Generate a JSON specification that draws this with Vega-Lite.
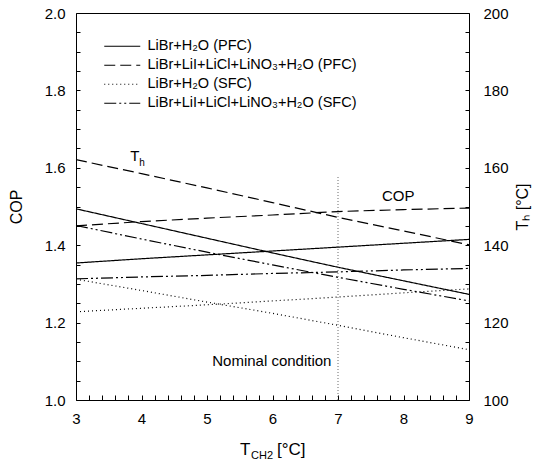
{
  "$schema": "https://vega.github.io/schema/vega-lite/v6.json",
  "width": 393,
  "height": 387,
  "autosize": {"type": "none"},
  "padding": {"left": 76, "top": 13, "right": 80, "bottom": 63},
  "background": "white",
  "config": {
    "view": {"stroke": "black", "strokeWidth": 1},
    "font": "Liberation Sans",
    "axis": {"domain": false, "labelColor": "black", "titleColor": "black", "grid": false, "labelFont": "Liberation Sans", "titleFont": "Liberation Sans", "labelFontSize": 15, "titleFontSize": 16, "titleFontWeight": "normal"},
    "legend": {"labelFont": "Liberation Sans", "labelFontSize": 14.5, "labelColor": "black", "labelLimit": 400}
  },
  "datasets": {
    "curves": [
      {"T": 3, "s": "LiBr+H₂O (PFC)", "COP": 1.354, "Th": 149.4},
      {"T": 4, "s": "LiBr+H₂O (PFC)", "COP": 1.365, "Th": 145.6},
      {"T": 5, "s": "LiBr+H₂O (PFC)", "COP": 1.375, "Th": 141.8},
      {"T": 6, "s": "LiBr+H₂O (PFC)", "COP": 1.385, "Th": 138.0},
      {"T": 7, "s": "LiBr+H₂O (PFC)", "COP": 1.395, "Th": 134.3},
      {"T": 8, "s": "LiBr+H₂O (PFC)", "COP": 1.405, "Th": 130.8},
      {"T": 9, "s": "LiBr+H₂O (PFC)", "COP": 1.415, "Th": 127.3},
      {"T": 3, "s": "LiBr+LiI+LiCl+LiNO₃+H₂O (PFC)", "COP": 1.450, "Th": 162.1},
      {"T": 4, "s": "LiBr+LiI+LiCl+LiNO₃+H₂O (PFC)", "COP": 1.461, "Th": 158.5},
      {"T": 5, "s": "LiBr+LiI+LiCl+LiNO₃+H₂O (PFC)", "COP": 1.470, "Th": 154.8},
      {"T": 6, "s": "LiBr+LiI+LiCl+LiNO₃+H₂O (PFC)", "COP": 1.478, "Th": 151.0},
      {"T": 7, "s": "LiBr+LiI+LiCl+LiNO₃+H₂O (PFC)", "COP": 1.487, "Th": 147.2},
      {"T": 8, "s": "LiBr+LiI+LiCl+LiNO₃+H₂O (PFC)", "COP": 1.492, "Th": 143.7},
      {"T": 9, "s": "LiBr+LiI+LiCl+LiNO₃+H₂O (PFC)", "COP": 1.496, "Th": 140.1},
      {"T": 3, "s": "LiBr+H₂O (SFC)", "COP": 1.228, "Th": 131.2},
      {"T": 4, "s": "LiBr+H₂O (SFC)", "COP": 1.237, "Th": 128.3},
      {"T": 5, "s": "LiBr+H₂O (SFC)", "COP": 1.246, "Th": 125.3},
      {"T": 6, "s": "LiBr+H₂O (SFC)", "COP": 1.256, "Th": 122.4},
      {"T": 7, "s": "LiBr+H₂O (SFC)", "COP": 1.266, "Th": 119.3},
      {"T": 8, "s": "LiBr+H₂O (SFC)", "COP": 1.277, "Th": 116.1},
      {"T": 9, "s": "LiBr+H₂O (SFC)", "COP": 1.287, "Th": 113.0},
      {"T": 3, "s": "LiBr+LiI+LiCl+LiNO₃+H₂O (SFC)", "COP": 1.313, "Th": 145.1},
      {"T": 4, "s": "LiBr+LiI+LiCl+LiNO₃+H₂O (SFC)", "COP": 1.318, "Th": 141.6},
      {"T": 5, "s": "LiBr+LiI+LiCl+LiNO₃+H₂O (SFC)", "COP": 1.322, "Th": 138.2},
      {"T": 6, "s": "LiBr+LiI+LiCl+LiNO₃+H₂O (SFC)", "COP": 1.327, "Th": 134.9},
      {"T": 7, "s": "LiBr+LiI+LiCl+LiNO₃+H₂O (SFC)", "COP": 1.331, "Th": 131.7},
      {"T": 8, "s": "LiBr+LiI+LiCl+LiNO₃+H₂O (SFC)", "COP": 1.336, "Th": 128.6},
      {"T": 9, "s": "LiBr+LiI+LiCl+LiNO₃+H₂O (SFC)", "COP": 1.340, "Th": 125.6}
    ]
  },
  "encoding": {
    "x": {"field": "T", "type": "quantitative",
      "scale": {"domain": [3, 9], "nice": false},
      "axis": {"orient": "bottom", "title": null, "offset": -5,
        "values": [3,3.2,3.4,3.6,3.8,4,4.2,4.4,4.6,4.8,5,5.2,5.4,5.6,5.8,6,6.2,6.4,6.6,6.8,7,7.2,7.4,7.6,7.8,8,8.2,8.4,8.6,8.8,9],
        "labelExpr": "abs(datum.value - round(datum.value)) < 0.001 ? format(datum.value, 'd') : ''",
        "ticks": true, "tickSize": 5, "tickColor": "black", "tickWidth": 1,
        "labelPadding": 11, "labelFlush": false, "labelOverlap": false, "labelBound": false}}
  },
  "layer": [
    {
      "data": {"name": "curves"},
      "mark": {"type": "line", "color": "black", "strokeWidth": 1.2},
      "encoding": {
        "y": {"field": "COP", "type": "quantitative",
          "scale": {"domain": [1, 2], "nice": false, "zero": false},
          "axis": {"orient": "left", "title": "COP", "titleFontSize": 16, "offset": -4,
            "tickCount": 20, "format": ".1f",
            "labelExpr": "abs(datum.value*5 - round(datum.value*5)) < 0.001 ? format(datum.value, '.1f') : ''",
            "ticks": true, "tickSize": 4, "tickColor": "black", "tickWidth": 1,
            "labelPadding": 11, "labelOverlap": false, "labelBound": false, "titlePadding": 20}},
        "strokeDash": {"field": "s", "type": "nominal",
          "scale": {"domain": ["LiBr+H₂O (PFC)", "LiBr+LiI+LiCl+LiNO₃+H₂O (PFC)", "LiBr+H₂O (SFC)", "LiBr+LiI+LiCl+LiNO₃+H₂O (SFC)"],
            "range": [[1, 0], [11, 5], [1, 3], [12, 3, 2, 3, 2, 3]]},
          "legend": {"title": null, "orient": "none", "legendX": 39, "legendY": 26, "symbolType": "M-3,0H3", "symbolSize": 144, "symbolStrokeColor": "black", "symbolFillColor": "transparent", "symbolStrokeWidth": 1.2, "labelOffset": 18, "rowPadding": 4}}
      }
    },
    {
      "data": {"name": "curves"},
      "mark": {"type": "line", "color": "black", "strokeWidth": 1.2},
      "encoding": {
        "y": {"field": "Th", "type": "quantitative",
          "scale": {"domain": [100, 200], "nice": false, "zero": false},
          "axis": {"orient": "right", "title": "Tₕ [°C]", "titleAngle": 270, "titleFontSize": 16, "offset": -4,
            "tickCount": 20,
            "labelExpr": "datum.value % 20 === 0 ? format(datum.value, 'd') : ''",
            "ticks": true, "tickSize": 4, "tickColor": "black", "tickWidth": 1,
            "labelPadding": 14, "labelOverlap": false, "labelBound": false, "titlePadding": 22}},
        "strokeDash": {"field": "s", "type": "nominal"}
      }
    },
    {
      "data": {"values": [{"T": 7, "lo": 1.0, "hi": 1.58}]},
      "mark": {"type": "rule", "color": "#444", "strokeWidth": 0.8, "strokeDash": [1, 2]},
      "encoding": {
        "y": {"field": "lo", "type": "quantitative", "scale": {"domain": [1, 2], "nice": false, "zero": false}, "axis": null},
        "y2": {"field": "hi"}
      }
    },
    {
      "data": {"values": [
        {"T": 3.90, "v": 1.630, "t": "T"},
        {"T": 7.92, "v": 1.526, "t": "COP"},
        {"T": 5.99, "v": 1.100, "t": "Nominal condition"}
      ]},
      "mark": {"type": "text", "fontSize": 15, "color": "black", "font": "Liberation Sans"},
      "encoding": {
        "y": {"field": "v", "type": "quantitative", "scale": {"domain": [1, 2], "nice": false, "zero": false}, "axis": null},
        "text": {"field": "t"}
      }
    },
    {
      "data": {"values": [
        {"T": 4.01, "v": 1.613, "t": "h"}
      ]},
      "mark": {"type": "text", "fontSize": 10, "color": "black", "font": "Liberation Sans"},
      "encoding": {
        "y": {"field": "v", "type": "quantitative", "scale": {"domain": [1, 2], "nice": false, "zero": false}, "axis": null},
        "text": {"field": "t"}
      }
    },
    {
      "data": {"values": [
        {"T": 5.504, "v": 0.872, "t": "T"},
        {"T": 6.069, "v": 0.872, "t": "[°C]"}
      ]},
      "mark": {"type": "text", "fontSize": 17, "color": "black", "font": "Liberation Sans", "clip": false, "align": "left"},
      "encoding": {
        "y": {"field": "v", "type": "quantitative", "scale": {"domain": [1, 2], "nice": false, "zero": false}, "axis": null},
        "text": {"field": "t"}
      }
    },
    {
      "data": {"values": [
        {"T": 5.672, "v": 0.855, "t": "CH2"}
      ]},
      "mark": {"type": "text", "fontSize": 11, "color": "black", "font": "Liberation Sans", "clip": false, "align": "left"},
      "encoding": {
        "y": {"field": "v", "type": "quantitative", "scale": {"domain": [1, 2], "nice": false, "zero": false}, "axis": null},
        "text": {"field": "t"}
      }
    }
  ],
  "resolve": {"scale": {"y": "independent"}, "axis": {"y": "independent"}}
}
